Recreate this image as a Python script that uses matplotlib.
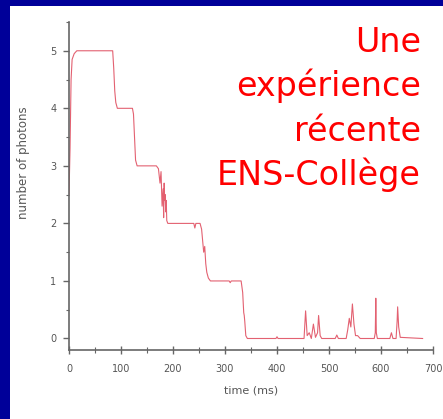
import matplotlib

matplotlib.use("Agg")
import matplotlib.pyplot as plt
from matplotlib.patches import Rectangle
from matplotlib.ticker import MultipleLocator

# photon number trace (time in ms, number of photons)
time_ms = [
    0, 2, 4, 6, 10, 15, 84, 86, 88, 90, 93, 122, 124, 126, 128, 131,
    168, 172, 175, 177, 179, 181, 182, 183, 184, 185, 186, 187, 188, 190, 194,
    240, 242, 244, 252, 255, 257, 259, 261, 263, 265, 268, 272,
    308, 310, 312, 331, 334, 336, 337, 338, 340, 343,
    398, 400, 402, 452, 455, 458, 462, 466, 470, 474, 478, 480, 483, 486,
    512, 515, 518, 533, 536, 539, 542, 545, 548, 551, 555, 560,
    587, 589, 590, 591, 593, 617, 620, 623, 629, 631, 632, 634, 637, 680,
]
photons = [
    2.5, 3.3, 4.5, 4.85, 4.95, 5.0, 5.0, 4.7, 4.3, 4.1, 4.0, 4.0, 3.9, 3.5, 3.1, 3.0,
    3.0, 2.95, 2.7, 2.9, 2.3, 2.6, 2.1, 2.7, 2.4, 2.5, 2.2, 2.4, 2.05, 2.0, 2.0,
    2.0, 1.92, 2.0, 2.0, 1.9, 1.7, 1.5, 1.6, 1.3, 1.15, 1.05, 1.0,
    1.0, 0.97, 1.0, 1.0, 0.8, 0.45, 0.4, 0.3, 0.05, 0.0,
    0.0, 0.03, 0.0, 0.0, 0.48, 0.05, 0.1, 0.0, 0.25, 0.02, 0.1, 0.4, 0.05, 0.0,
    0.0, 0.06, 0.0, 0.0, 0.15, 0.35, 0.2, 0.6, 0.25, 0.05, 0.05, 0.0,
    0.0, 0.1, 0.7, 0.1, 0.0, 0.0, 0.1, 0.0, 0.0, 0.3, 0.55, 0.2, 0.02, 0.0,
]

x_ticks = [0, 100, 200, 300, 400, 500, 600, 700]
y_ticks = [0, 1, 2, 3, 4, 5]
title_lines = ["Une", "expérience", "récente", "ENS-Collège"]

W, H = 443, 419
fig = plt.figure(figsize=(W / 100, H / 100), dpi=100, facecolor="#000099")

# white slide panel, kept behind the axes
fig.patches.append(
    Rectangle((10 / W, 0), 1, (H - 6) / H, transform=fig.transFigure,
              facecolor="white", edgecolor="none", zorder=-10)
)

ax = fig.add_axes([69 / W, 69 / H, 364 / W, 328 / H])
ax.set_zorder(5)
ax.set_facecolor("none")
ax.plot(time_ms, photons, color="#dc3a4e", linewidth=0.8, alpha=0.8)

ax.set_xlim(0, 700)
ax.set_ylim(-0.2, 5.5)
ax.set_xticks(x_ticks)
ax.set_yticks(y_ticks)
ax.xaxis.set_minor_locator(MultipleLocator(50))
ax.yaxis.set_minor_locator(MultipleLocator(0.5))

for side in ("top", "right"):
    ax.spines[side].set_visible(False)
for side in ("left", "bottom"):
    ax.spines[side].set_color("#666666")
    ax.spines[side].set_linewidth(1.2)

ax.tick_params(axis="x", which="major", direction="inout", length=6, width=1, colors="#666666",
               labelsize=7, labelcolor="#555555", pad=7)
ax.tick_params(axis="x", which="minor", direction="inout", length=4, width=0.8, colors="#666666")
ax.tick_params(axis="y", which="major", direction="out", length=4, width=1, colors="#666666",
               labelsize=7, labelcolor="#555555", pad=5)
ax.tick_params(axis="y", which="minor", direction="out", length=2.5, width=0.8, colors="#666666")

ax.set_xlabel("time (ms)", fontsize=8, color="#555555", labelpad=8)
ax.set_ylabel("number of photons", fontsize=8.5, color="#555555")
# label sits higher than the axes centre in the reference
ax.yaxis.set_label_coords(-39 / 364, (350 - 163) / 328)

baselines = [52, 96, 141, 185]
for line, yb in zip(title_lines, baselines):
    fig.text(421 / W, 1 - yb / H, line, color="#ff0000", fontsize=24,
             ha="right", va="baseline", family="DejaVu Sans", zorder=10)

fig.savefig("out.png", dpi=100, facecolor=fig.get_facecolor())
